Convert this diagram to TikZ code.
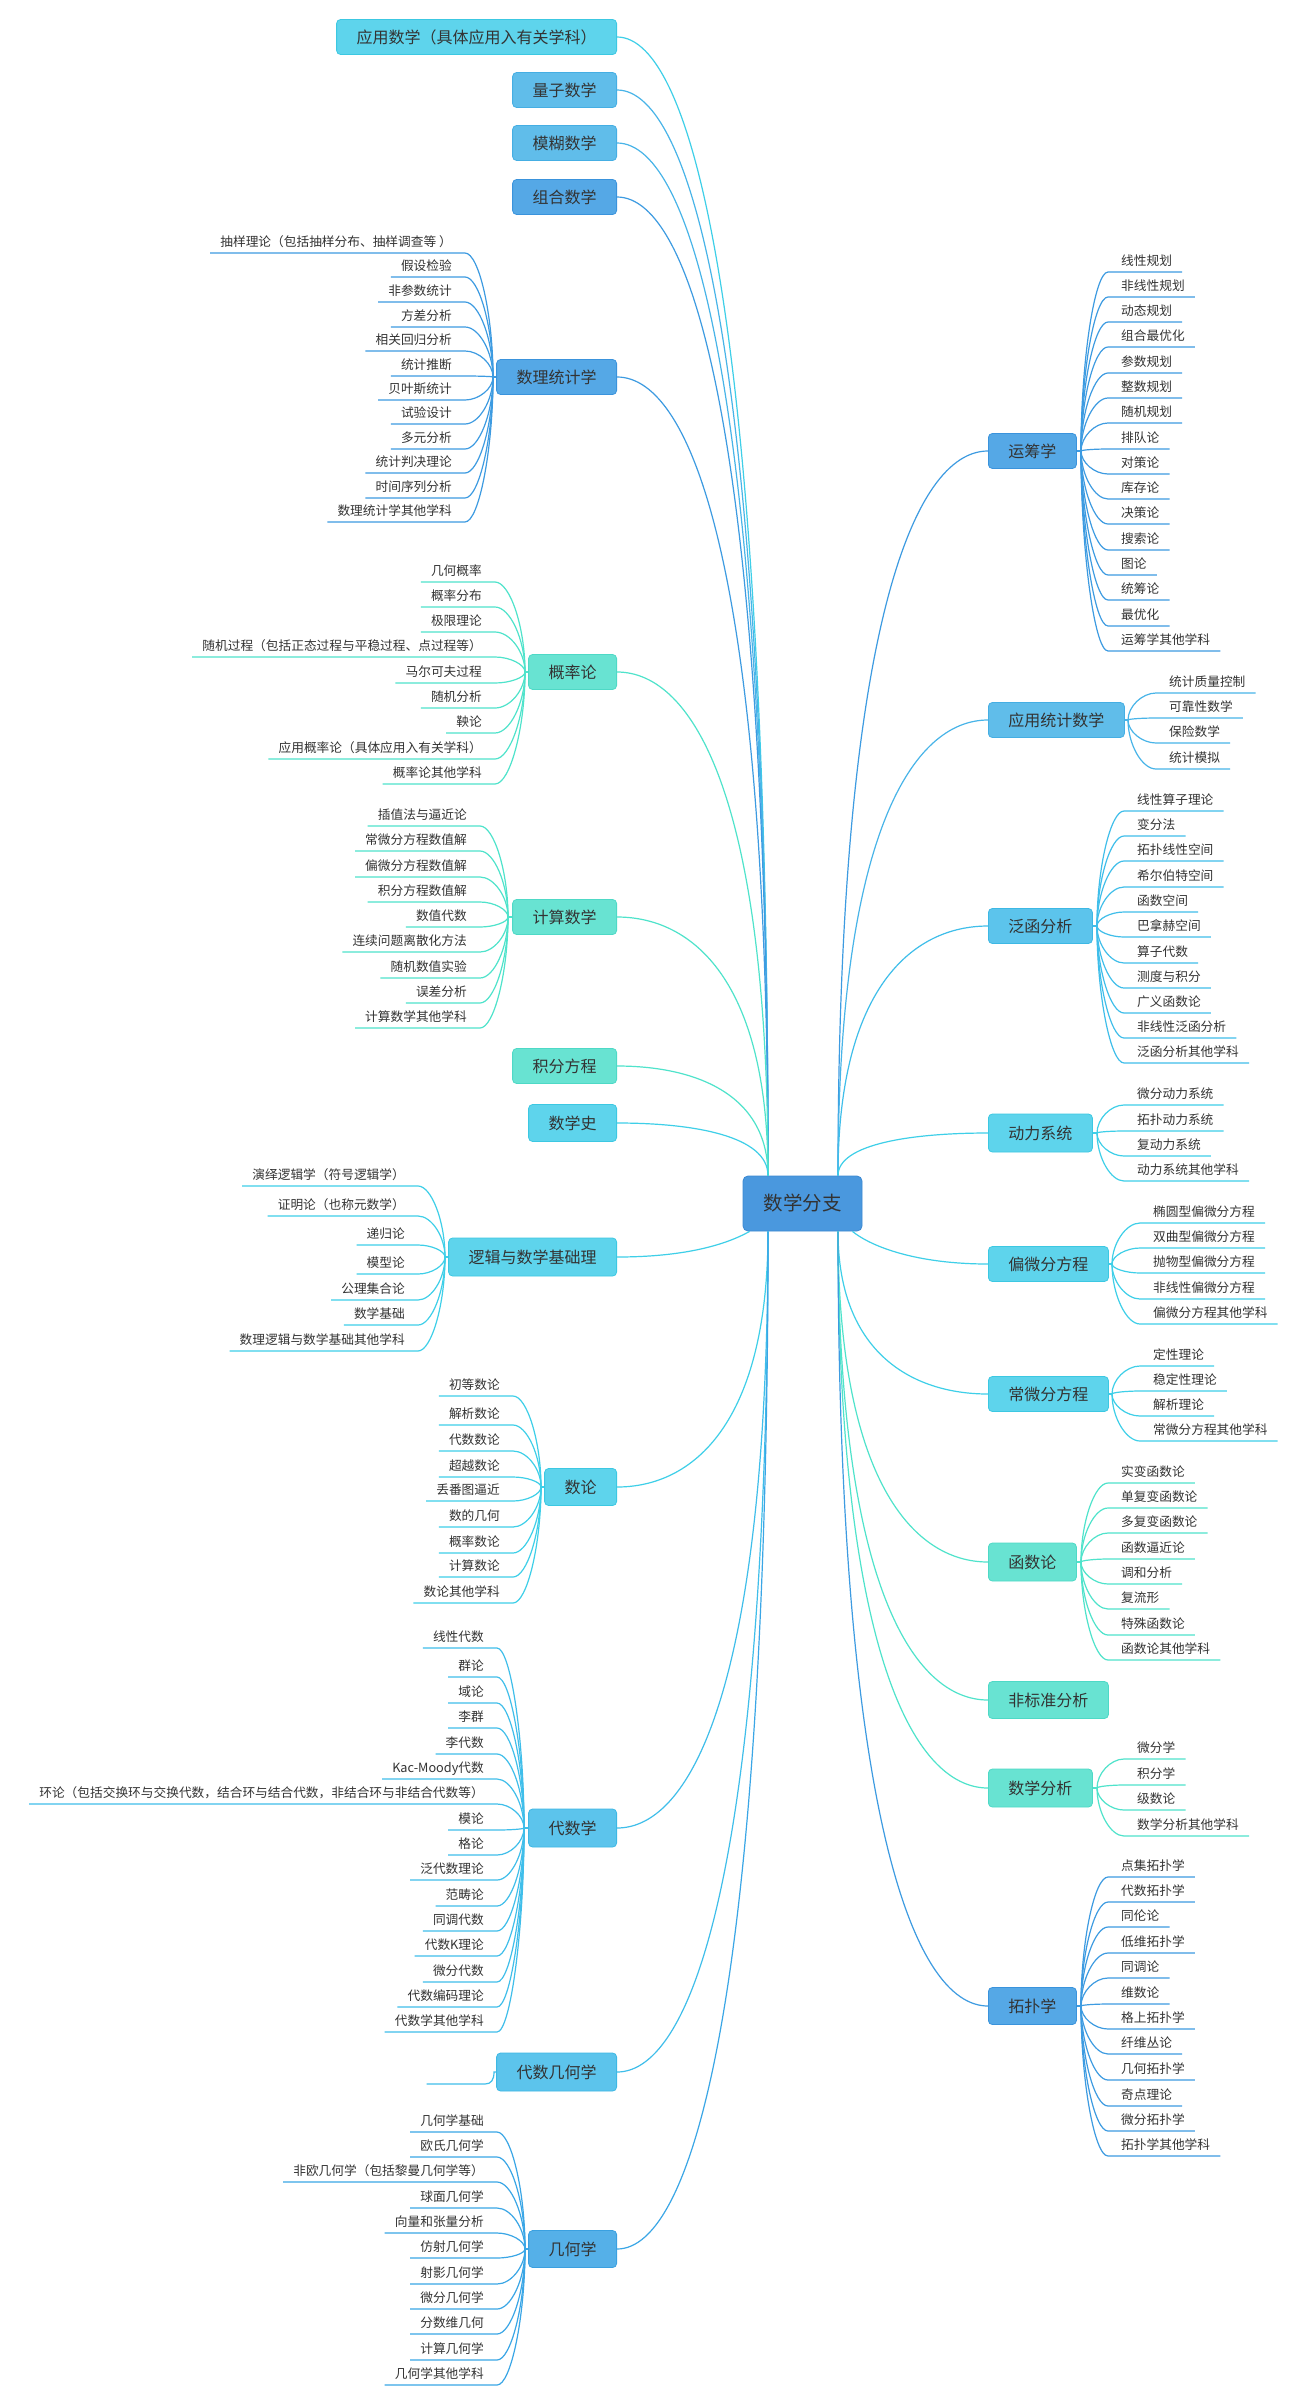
\documentclass[tikz,border=0pt]{standalone}
\usepackage{fontspec}
\setmainfont{Noto Sans CJK SC}
\usetikzlibrary{calc}
\definecolor{txt}{HTML}{333333}
\definecolor{blueL}{HTML}{3D9BE1}\definecolor{blueF}{HTML}{55A8E6}\definecolor{blueB}{HTML}{3A93DC}
\definecolor{skyL}{HTML}{48B4E8}\definecolor{skyF}{HTML}{60BDEA}\definecolor{skyB}{HTML}{45AEE3}
\definecolor{skyiiL}{HTML}{3FBEEA}\definecolor{skyiiF}{HTML}{5CC4EC}\definecolor{skyiiB}{HTML}{3DB8E4}
\definecolor{cyanL}{HTML}{3ECFE8}\definecolor{cyanF}{HTML}{5ED4EC}\definecolor{cyanB}{HTML}{3CC8E2}
\definecolor{mintL}{HTML}{4FE3CB}\definecolor{mintF}{HTML}{68E3D2}\definecolor{mintB}{HTML}{4ED9C6}
\definecolor{geoL}{HTML}{3AA6E6}\definecolor{geoF}{HTML}{55B0E8}\definecolor{geoB}{HTML}{3AA0E0}
\definecolor{ctrF}{HTML}{4A98DE}\definecolor{ctrB}{HTML}{3A88D2}
\tikzset{
  conn/.style={line width=1.2pt},
  leaf/.style={inner xsep=0pt, inner ysep=0pt, text height=11pt, text depth=6pt,
    font=\fontsize{12.7}{14}\selectfont, text=txt},
  mainbox/.style={rounded corners=4pt, minimum height=35pt, inner xsep=20pt, inner ysep=0pt,
    font=\fontsize{16}{18}\selectfont, text=txt, line width=0.8pt},
  bluebox/.style={fill=blueF, draw=blueB}, skybox/.style={fill=skyF, draw=skyB},
  skyiibox/.style={fill=skyiiF, draw=skyiiB}, cyanbox/.style={fill=cyanF, draw=cyanB},
  mintbox/.style={fill=mintF, draw=mintB}, geobox/.style={fill=geoF, draw=geoB},
  lblue/.style={draw=blueL}, lsky/.style={draw=skyL}, lskyii/.style={draw=skyiiL},
  lcyan/.style={draw=cyanL}, lmint/.style={draw=mintL}, lgeo/.style={draw=geoL}
}
% #1 prefix, #2 line style, #3 line end x, #4 junction x, #5 parent y, #6 list
\newcommand\LeftLeaves[6]{%
  \coordinate (#1j) at (#4,#5);
  \foreach \yy/\lab [count=\i] in {#6} {%
    \node[leaf, anchor=south east] (#1\i) at (#3,\yy) {\hspace*{10pt}\lab\hspace*{13pt}};
    \draw[conn,#2] (#1\i.south west) -- (#1\i.south east) .. controls +({(#4-#3)/2},0) and (#4,{(\yy+#5)/2}) .. (#1j);
  }%
  \draw[conn,#2] (#1j) -- (#1.west);
}
\newcommand\RightLeaves[6]{%
  \coordinate (#1j) at (#4,#5);
  \foreach \yy/\lab [count=\i] in {#6} {%
    \node[leaf, anchor=south west] (#1\i) at (#3,\yy) {\hspace*{13pt}\lab\hspace*{10pt}};
    \draw[conn,#2] (#1\i.south east) -- (#1\i.south west) .. controls +({(#4-#3)/2},0) and (#4,{(\yy+#5)/2}) .. (#1j);
  }%
  \draw[conn,#2] (#1j) -- (#1.east);
}
% main connector: #1 node, #2 line style, #3 anchor, #4 dx, #5 target, #6 dy
\newcommand\MC[6]{\draw[conn,#2] (#1.#3) .. controls +(#4,0) and ($(#5)+(0,#6)$) .. (#5);}
\begin{document}
\begin{tikzpicture}[x=1pt,y=-1pt]
\useasboundingbox (0,0) rectangle (1299,2406);
\fill[white] (0,0) rectangle (1299,2406);

% center
\node[fill=ctrF, draw=ctrB, line width=0.8pt, rounded corners=5pt, minimum width=119pt, minimum height=55pt,
  inner sep=0pt, font=\fontsize{19.5}{22}\selectfont, text=txt] (ctr) at (802.5,1203.5) {数学分支};
\coordinate (ctl) at ([xshift=-34.5pt]ctr.north);
\coordinate (ctrt) at ([xshift=35.5pt]ctr.north);
\coordinate (cbl) at ([xshift=-34.5pt]ctr.south);
\coordinate (cbr) at ([xshift=35.5pt]ctr.south);
\coordinate (clg) at ([xshift=7pt]ctr.south west);
\coordinate (cpde) at ([xshift=-10pt]ctr.south east);

% left main nodes
\node[mainbox, cyanbox, anchor=east] (am) at (617,37) {应用数学（具体应用入有关学科）};
\node[mainbox, skybox, anchor=east] (qm) at (617,90) {量子数学};
\node[mainbox, skybox, anchor=east] (fm) at (617,143) {模糊数学};
\node[mainbox, bluebox, anchor=east] (cb) at (617,197) {组合数学};
\node[mainbox, bluebox, anchor=east] (ms) at (617,377) {数理统计学};
\node[mainbox, mintbox, anchor=east] (pr) at (617,672) {概率论};
\node[mainbox, mintbox, anchor=east] (cm) at (617,917) {计算数学};
\node[mainbox, mintbox, anchor=east] (ie) at (617,1066) {积分方程};
\node[mainbox, cyanbox, anchor=east, minimum height=37pt] (hm) at (617,1123) {数学史};
\node[mainbox, cyanbox, anchor=east, minimum height=38pt] (lg) at (617,1257) {逻辑与数学基础理};
\node[mainbox, cyanbox, anchor=east, minimum height=37pt] (nt) at (617,1487) {数论};
\node[mainbox, skyiibox, anchor=east, minimum height=38pt] (al) at (617,1828) {代数学};
\node[mainbox, skyiibox, anchor=east, minimum height=38pt] (ag) at (617,2072) {代数几何学};
\node[mainbox, geobox, anchor=east, minimum height=37pt] (ge) at (617,2249) {几何学};

% right main nodes
\node[mainbox, bluebox, anchor=west] (or) at (988,451) {运筹学};
\node[mainbox, skybox, anchor=west] (as) at (988,720) {应用统计数学};
\node[mainbox, skyiibox, anchor=west] (fa) at (988,926) {泛函分析};
\node[mainbox, cyanbox, anchor=west, minimum height=38pt] (ds) at (988,1133) {动力系统};
\node[mainbox, cyanbox, anchor=west] (pde) at (988,1264) {偏微分方程};
\node[mainbox, cyanbox, anchor=west] (ode) at (988,1394) {常微分方程};
\node[mainbox, mintbox, anchor=west, minimum height=38pt] (ft) at (988,1562) {函数论};
\node[mainbox, mintbox, anchor=west, minimum height=37pt] (ns) at (988,1700) {非标准分析};
\node[mainbox, mintbox, anchor=west, minimum height=38pt] (ma) at (988,1788) {数学分析};
\node[mainbox, bluebox, anchor=west, minimum height=37pt] (tp) at (988,2006) {拓扑学};

% main connectors, left
\MC{am}{lcyan}{east}{76}{ctl}{-854}
\MC{qm}{lsky}{east}{76}{ctl}{-815}
\MC{fm}{lsky}{east}{76}{ctl}{-775}
\MC{cb}{lblue}{east}{76}{ctl}{-734}
\MC{ms}{lblue}{east}{76}{ctl}{-599}
\MC{pr}{lmint}{east}{76}{ctl}{-378}
\MC{cm}{lmint}{east}{76}{ctl}{-194}
\MC{ie}{lmint}{east}{76}{ctl}{-83}
\MC{hm}{lcyan}{east}{76}{ctl}{-40}
\draw[conn,lcyan] (lg.east) .. controls +(66,0) and ($(clg)+(-25,14)$) .. (clg);
\MC{nt}{lcyan}{east}{76}{cbl}{192}
\MC{al}{lskyii}{east}{76}{cbl}{448}
\MC{ag}{lskyii}{east}{76}{cbl}{631}
\MC{ge}{lgeo}{east}{76}{cbl}{764}
% main connectors, right
\MC{or}{lblue}{west}{-75}{ctrt}{-544}
\MC{as}{lsky}{west}{-75}{ctrt}{-342}
\MC{fa}{lskyii}{west}{-75}{ctrt}{-188}
\MC{ds}{lcyan}{west}{-75}{ctrt}{-32}
\draw[conn,lcyan] (pde.west) .. controls +(-70,0) and ($(cpde)+(20,16)$) .. (cpde);
\MC{ode}{lcyan}{west}{-75}{cbr}{122}
\MC{ft}{lmint}{west}{-75}{cbr}{248}
\MC{ns}{lmint}{west}{-75}{cbr}{352}
\MC{ma}{lmint}{west}{-75}{cbr}{418}
\MC{tp}{lblue}{west}{-75}{cbr}{581}

% left leaves
\LeftLeaves{ms}{lblue}{465}{493}{377}{253/{抽样理论（包括抽样分布、抽样调查等 ）},277/假设检验,302/非参数统计,327/方差分析,351/相关回归分析,376/统计推断,400/贝叶斯统计,424/试验设计,449/多元分析,473/统计判决理论,498/时间序列分析,522/数理统计学其他学科}
\LeftLeaves{pr}{lmint}{495}{525}{672}{582/几何概率,607/概率分布,632/极限理论,657/{随机过程（包括正态过程与平稳过程、点过程等）},683/马尔可夫过程,708/随机分析,733/鞅论,759/{应用概率论（具体应用入有关学科）},784/概率论其他学科}
\LeftLeaves{cm}{lmint}{480}{508}{917}{826/插值法与逼近论,851/常微分方程数值解,877/偏微分方程数值解,902/积分方程数值解,927/数值代数,952/连续问题离散化方法,978/随机数值实验,1003/误差分析,1028/计算数学其他学科}
\LeftLeaves{lg}{lcyan}{418}{445}{1257}{1186/{演绎逻辑学（符号逻辑学）},1216/{证明论（也称元数学）},1245/递归论,1274/模型论,1300/公理集合论,1325/数学基础,1351/数理逻辑与数学基础其他学科}
\LeftLeaves{nt}{lcyan}{513}{541}{1487}{1396/初等数论,1425/解析数论,1451/代数数论,1477/超越数论,1501/丢番图逼近,1527/数的几何,1553/概率数论,1577/计算数论,1603/数论其他学科}
\LeftLeaves{al}{lskyii}{497}{524}{1828}{1648/线性代数,1677/群论,1703/域论,1728/李群,1754/李代数,1779/Kac-Moody代数,1804/{环论（包括交换环与交换代数，结合环与结合代数，非结合环与非结合代数等）},1830/模论,1855/格论,1880/泛代数理论,1906/范畴论,1931/同调代数,1956/代数K理论,1982/微分代数,2007/代数编码理论,2032/代数学其他学科}
\LeftLeaves{ge}{lgeo}{497}{525}{2249}{2132/几何学基础,2157/欧氏几何学,2182/{非欧几何学（包括黎曼几何学等）},2208/球面几何学,2233/向量和张量分析,2258/仿射几何学,2284/射影几何学,2309/微分几何学,2334/分数维几何,2360/计算几何学,2385/几何学其他学科}
% empty leaf of 代数几何学
\node[leaf, anchor=south east, minimum width=58pt] (ag1) at (485,2084) {};
\coordinate (agj) at (494,2072);
\draw[conn,lskyii] (ag1.south west) -- (ag1.south east) .. controls +(6,0) and (494,2080) .. (agj) -- (ag.west);

% right leaves
\RightLeaves{or}{lblue}{1108}{1081}{451}{272/线性规划,297/非线性规划,322/动态规划,347/组合最优化,373/参数规划,398/整数规划,423/随机规划,449/排队论,474/对策论,499/库存论,524/决策论,550/搜索论,575/图论,600/统筹论,626/最优化,651/运筹学其他学科}
\RightLeaves{as}{lsky}{1156}{1128}{720}{693/统计质量控制,718/可靠性数学,743/保险数学,769/统计模拟}
\RightLeaves{fa}{lskyii}{1124}{1097}{926}{811/线性算子理论,836/变分法,861/拓扑线性空间,887/希尔伯特空间,912/函数空间,937/巴拿赫空间,963/算子代数,988/测度与积分,1013/广义函数论,1038/非线性泛函分析,1063/泛函分析其他学科}
\RightLeaves{ds}{lcyan}{1124}{1097}{1133}{1105/微分动力系统,1131/拓扑动力系统,1156/复动力系统,1181/动力系统其他学科}
\RightLeaves{pde}{lcyan}{1140}{1112}{1264}{1223/椭圆型偏微分方程,1248/双曲型偏微分方程,1273/抛物型偏微分方程,1299/非线性偏微分方程,1324/偏微分方程其他学科}
\RightLeaves{ode}{lcyan}{1140}{1112}{1394}{1366/定性理论,1391/稳定性理论,1416/解析理论,1441/常微分方程其他学科}
\RightLeaves{ft}{lmint}{1108}{1081}{1562}{1483/实变函数论,1508/单复变函数论,1533/多复变函数论,1559/函数逼近论,1584/调和分析,1609/复流形,1635/特殊函数论,1660/函数论其他学科}
\RightLeaves{ma}{lmint}{1124}{1097}{1788}{1759/微分学,1785/积分学,1810/级数论,1836/数学分析其他学科}
\RightLeaves{tp}{lblue}{1108}{1081}{2006}{1877/点集拓扑学,1902/代数拓扑学,1927/同伦论,1953/低维拓扑学,1978/同调论,2004/维数论,2029/格上拓扑学,2054/纤维丛论,2080/几何拓扑学,2106/奇点理论,2131/微分拓扑学,2156/拓扑学其他学科}
\end{tikzpicture}
\end{document}
